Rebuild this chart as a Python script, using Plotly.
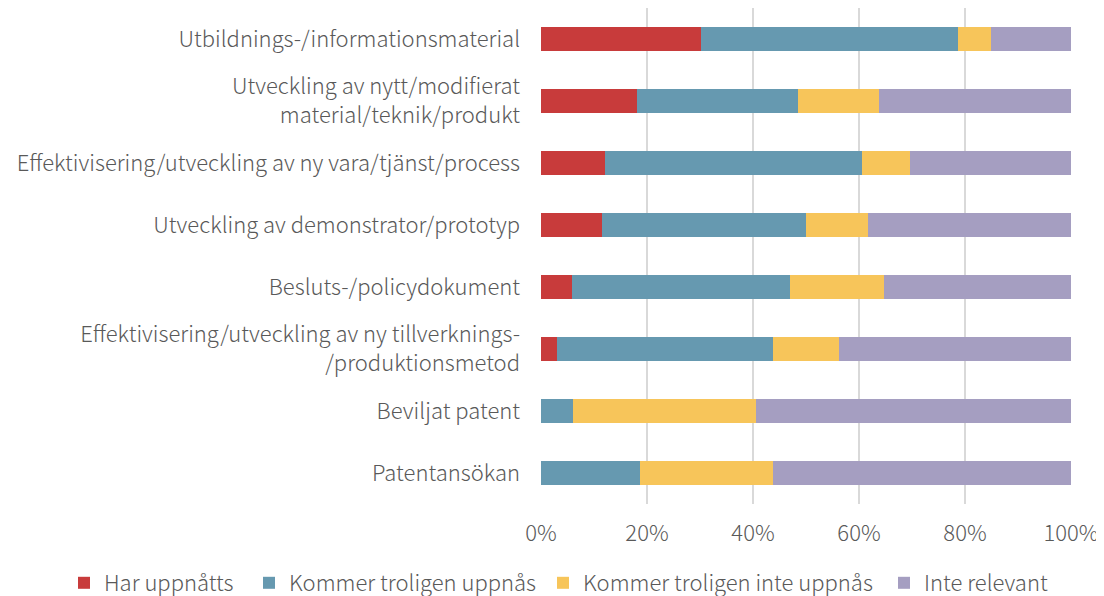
import plotly.graph_objects as go

categories = [
    "Utbildnings-/informationsmaterial",
    "Utveckling av nytt/modifierat<br>material/teknik/produkt",
    "Effektivisering/utveckling av ny vara/tjänst/process",
    "Utveckling av demonstrator/prototyp",
    "Besluts-/policydokument",
    "Effektivisering/utveckling av ny tillverknings-<br>/produktionsmetod",
    "Beviljat patent",
    "Patentansökan",
]
har_uppnatts = [30.2, 18.1, 12.0, 11.6, 5.8, 3.0, 0.0, 0.0]
kommer_uppnas = [48.5, 30.4, 48.5, 38.4, 41.2, 40.7, 6.1, 18.6]
kommer_inte_uppnas = [6.2, 15.2, 9.2, 11.7, 17.7, 12.5, 34.4, 25.2]
inte_relevant = [15.1, 36.3, 30.3, 38.3, 35.3, 43.8, 59.5, 56.2]

series_names = ["Har uppnåtts", "Kommer troligen uppnås",
                "Kommer troligen inte uppnås", "Inte relevant"]
series_values = [har_uppnatts, kommer_uppnas, kommer_inte_uppnas, inte_relevant]
series_colors = ["#C83B3B", "#6699B0", "#F7C55A", "#A59EC1"]

tick_vals = [0, 20, 40, 60, 80, 100]
tick_text = ["0%", "20%", "40%", "60%", "80%", "100%"]

FONT = "Noto Sans CJK JP"
GREY = "#595959"
FS = 22

# page body has an 8px margin, so the figure is sized to fit the window
W, H = 1096, 588

legend_ids = ["legend", "legend2", "legend3", "legend4"]
legend_left_px = [56, 241, 535, 876]

fig = go.Figure()
for name, vals, color, lid in zip(series_names, series_values, series_colors, legend_ids):
    fig.add_trace(go.Bar(
        y=categories, x=vals, name=name, orientation="h",
        marker=dict(color=color, line=dict(width=0)),
        width=0.4, legend=lid,
    ))

legend_common = dict(
    orientation="h", xref="container", yref="container",
    xanchor="left", yanchor="middle", y=1 - 575 / H,
    font=dict(family=FONT, size=FS, color=GREY, weight=300),
    itemwidth=30, bgcolor="rgba(0,0,0,0)",
)
legend_layout = {}
for lid, px in zip(legend_ids, legend_left_px):
    legend_layout[lid] = dict(legend_common, x=px / W)

fig.update_layout(
    barmode="stack",
    width=W, height=H,
    margin=dict(l=533, r=33, t=0, b=92, autoexpand=False),
    plot_bgcolor="white", paper_bgcolor="white",
    font=dict(family=FONT, size=FS, color=GREY, weight=300),
    xaxis=dict(
        range=[0, 100], tickvals=tick_vals, ticktext=tick_text,
        showgrid=True, gridcolor="#D9D9D9", gridwidth=1.5,
        zeroline=False, ticks="", showline=False,
        tickfont=dict(family=FONT, size=FS, color=GREY, weight=300),
        ticklabelstandoff=14,
    ),
    yaxis=dict(
        categoryorder="array", categoryarray=categories,
        autorange="reversed", showgrid=False, ticks="",
        showline=False, ticklabelstandoff=20,
        tickfont=dict(family=FONT, size=FS, color=GREY, weight=300),
    ),
    bargap=0.6,
    showlegend=True,
    **legend_layout,
)

fig.write_html("out.html")
